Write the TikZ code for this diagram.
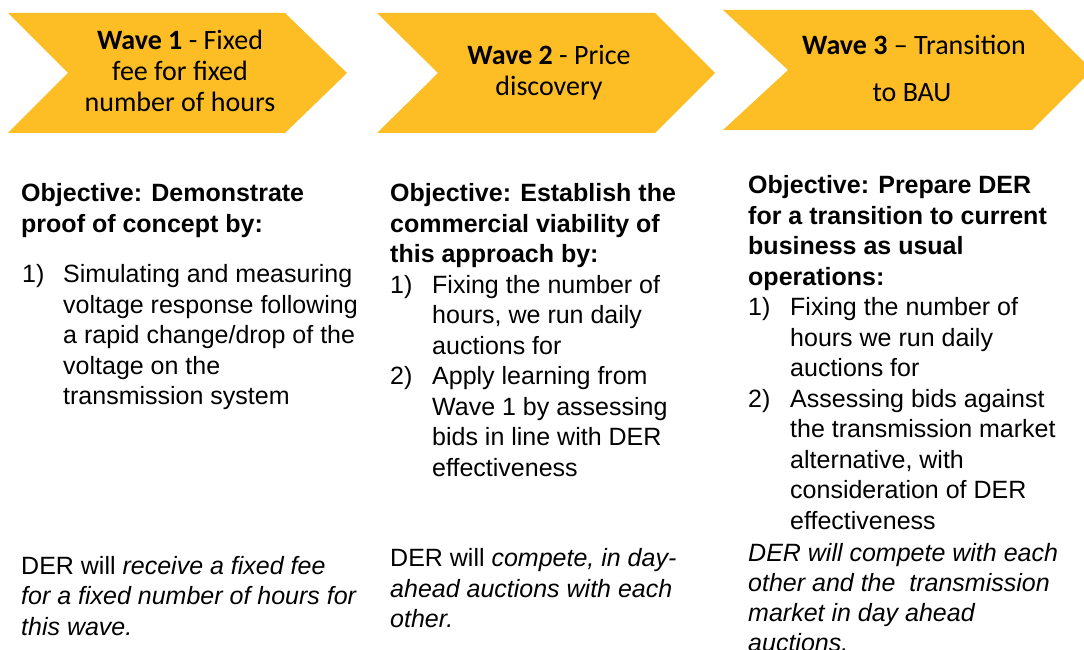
\documentclass[tikz,border=0pt]{standalone}
\usepackage{fontspec}
\newfontfamily\bodyfont{Liberation Sans}
\newfontfamily\capfont{Carlito}
\definecolor{gold}{RGB}{253,189,36}
\begin{document}
\begin{tikzpicture}[x=1pt,y=-1pt,
  chev/.style={fill=gold, draw=none},
  ttl/.style={anchor=base, inner sep=0pt, font=\capfont\fontsize{28}{31}\selectfont},
  ln/.style={anchor=base west, inner sep=0pt, font=\bodyfont\fontsize{25}{30.5}\selectfont},
  hd/.style={ln, font=\bodyfont\bfseries\fontsize{25}{30.5}\selectfont}]
\useasboundingbox (0,0) rectangle (1084,650);
\clip (0,0) rectangle (1084,650);
% chevrons
\fill[chev] (8,13) -- (285,13) -- (347,73) -- (285,133) -- (8,133) -- (68,73) -- cycle;
\fill[chev] (377,13) -- (655,13) -- (715,73) -- (655,133) -- (377,133) -- (438,73) -- cycle;
\fill[chev] (723,10) -- (1032,10) -- (1092,70) -- (1032,130) -- (723,130) -- (788,70) -- cycle;
% titles
\node[ttl] (t1a) at (180,49.5) {\textbf{Wave 1} - Fixed};
\node[ttl] (t1b) at (180,80.5) {fee for fixed};
\node[ttl] (t1c) at (180,111.5) {number of hours};
\node[ttl] (t2a) at (549,65) {\textbf{Wave 2} - Price};
\node[ttl] (t2b) at (549,95.5) {discovery};
\node[ttl] (t3a) at (914,55) {\textbf{Wave 3} – Transition};
\node[ttl] (t3b) at (912,101.5) {to BAU};
% column 1
\node[hd] (a1) at (21,201.5) {Objective: Demonstrate};
\node[hd] (a2) at (21,232) {proof of concept by:};
\node[ln] (a3n) at (22,282.5) {1)};
\node[ln] (a3) at (63,282.5) {Simulating and measuring};
\node[ln] (a4) at (63,313) {voltage response following};
\node[ln] (a5) at (63,343.5) {a rapid change/drop of the};
\node[ln] (a6) at (63,374) {voltage on the};
\node[ln] (a7) at (63,404.5) {transmission system};
\node[ln] (a8) at (21,574) {DER will \textit{receive a fixed fee}};
\node[ln] (a9) at (21,604.5) {\textit{for a fixed number of hours for}};
\node[ln] (a10) at (21,635) {\textit{this wave.}};
% column 2
\node[hd] (b1) at (390,201.5) {Objective: Establish the};
\node[hd] (b2) at (390,232) {commercial viability of};
\node[hd] (b3) at (390,262.5) {this approach by:};
\node[ln] (b4n) at (390,293) {1)};
\node[ln] (b4) at (432,293) {Fixing the number of};
\node[ln] (b5) at (432,323.5) {hours, we run daily};
\node[ln] (b6) at (432,354) {auctions for};
\node[ln] (b7n) at (390,384.5) {2)};
\node[ln] (b7) at (432,384.5) {Apply learning from};
\node[ln] (b8) at (432,415) {Wave 1 by assessing};
\node[ln] (b9) at (432,445.5) {bids in line with DER};
\node[ln] (b10) at (432,476) {effectiveness};
\node[ln] (b11) at (390,566.5) {DER will \textit{compete, in day-}};
\node[ln] (b12) at (390,597) {\textit{ahead auctions with each}};
\node[ln] (b13) at (390,627.5) {\textit{other.}};
% column 3
\node[hd] (c1) at (748,193.5) {Objective: Prepare DER};
\node[hd] (c2) at (748,224) {for a transition to current};
\node[hd] (c3) at (748,254.5) {business as usual};
\node[hd] (c4) at (748,285) {operations:};
\node[ln] (c5n) at (748,315.5) {1)};
\node[ln] (c5) at (790,315.5) {Fixing the number of};
\node[ln] (c6) at (790,346) {hours we run daily};
\node[ln] (c7) at (790,376.5) {auctions for};
\node[ln] (c8n) at (748,407) {2)};
\node[ln] (c8) at (790,407) {Assessing bids against};
\node[ln] (c9) at (790,437.5) {the transmission market};
\node[ln] (c10) at (790,468) {alternative, with};
\node[ln] (c11) at (790,498.5) {consideration of DER};
\node[ln] (c12) at (790,529) {effectiveness};
\node[ln] (c13) at (748,561) {\textit{DER will compete with each}};
\node[ln] (c14) at (748,591.5) {\textit{other and the\ \ transmission}};
\node[ln] (c15) at (748,621.5) {\textit{market in day ahead}};
\node[ln] (c16) at (748,651.5) {\textit{auctions.}};
\end{tikzpicture}
\end{document}
